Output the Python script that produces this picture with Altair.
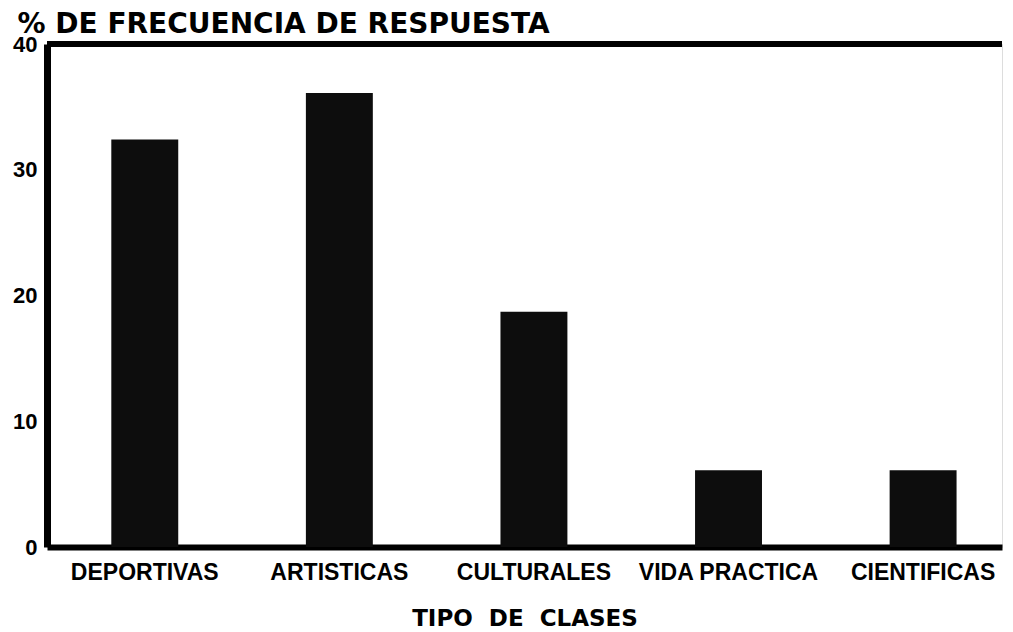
import altair as alt
import pandas as pd

categories = ["DEPORTIVAS", "ARTISTICAS", "CULTURALES", "VIDA PRACTICA", "CIENTIFICAS"]
values = [32.4, 36.1, 18.7, 6.1, 6.1]
y_ticks = [0, 10, 20, 30, 40]

df = pd.DataFrame({"clase": categories, "pct": values})

FONT = "Liberation Sans"
WIDE = "DejaVu Sans"

x_enc = alt.X(
    "clase:N",
    sort=categories,
    scale=alt.Scale(paddingInner=0.656, paddingOuter=0.282, align=0.586),
    axis=alt.Axis(
        title="TIPO\u00a0 DE\u00a0 CLASES",
        labelAngle=0,
        labelFont=FONT,
        labelFontSize=23,
        labelFontWeight="bold",
        labelColor="black",
        labelPadding=14,
        labelLimit=400,
        ticks=False,
        domainColor="black",
        domainWidth=6,
        titleFont=WIDE,
        titleFontSize=23,
        titleFontWeight="bold",
        titleColor="black",
        titlePadding=23,
        labelOverlap=False,
    ),
)

y_enc = alt.Y(
    "pct:Q",
    scale=alt.Scale(domain=[0, 40], nice=False),
    axis=alt.Axis(
        values=y_ticks,
        title="% DE FRECUENCIA DE RESPUESTA",
        titleAngle=0,
        titleAlign="left",
        titleBaseline="alphabetic",
        titleX=-30,
        titleY=-12,
        titleFont=WIDE,
        titleFontSize=28,
        titleFontWeight="bold",
        titleColor="black",
        labelFont=FONT,
        labelFontSize=22,
        labelFontWeight="bold",
        labelColor="black",
        labelPadding=10,
        ticks=False,
        grid=False,
        domainColor="black",
        domainWidth=7,
    ),
)

bars = alt.Chart(df).mark_bar(color="#0d0d0d").encode(x=x_enc, y=y_enc)

top_line = alt.Chart(pd.DataFrame({"v": [40]})).mark_rule(
    color="black", strokeWidth=6
).encode(y=alt.Y("v:Q", scale=alt.Scale(domain=[0, 40], nice=False)))

chart = (
    alt.layer(bars, top_line)
    .properties(width=955, height=503, padding={"left": 4, "top": 2, "right": 0, "bottom": 0})
    .configure_view(stroke=None)
    .configure(background="white")
)

chart.save("out.html", embed_options={"renderer": "svg", "actions": False})
